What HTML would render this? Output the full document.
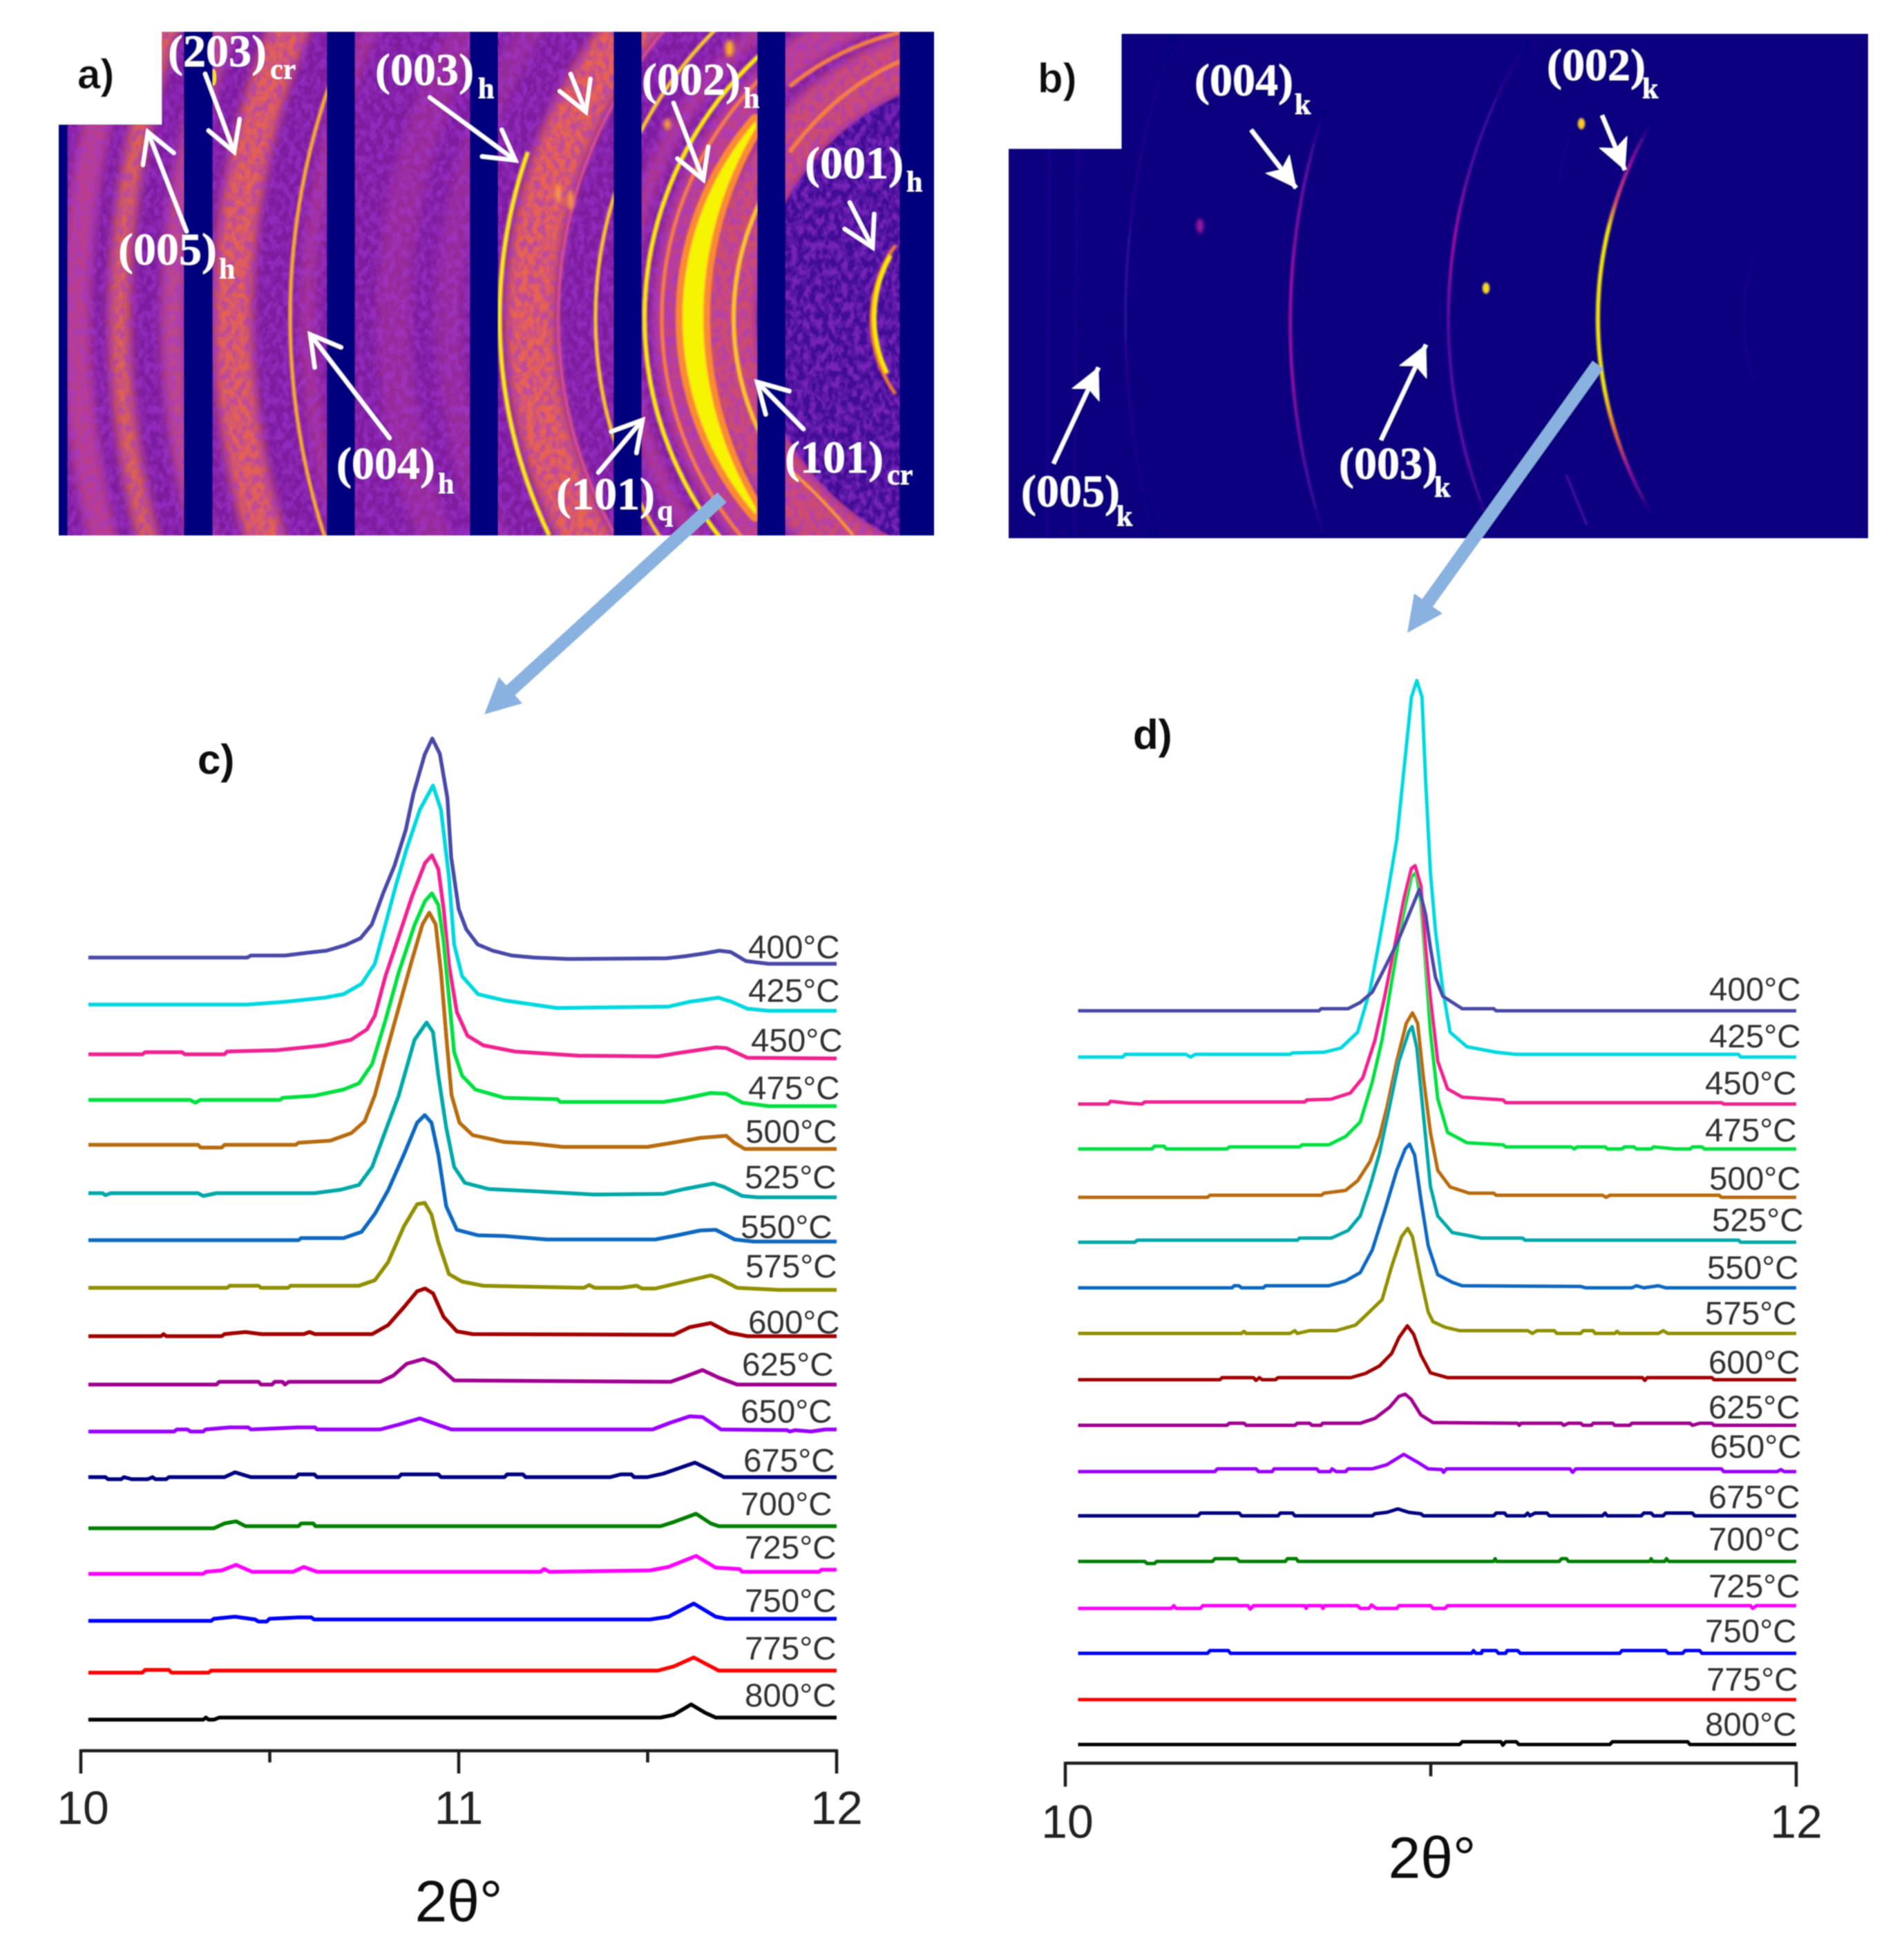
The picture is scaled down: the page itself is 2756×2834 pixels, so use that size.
<!DOCTYPE html>
<html lang="en">
<head>
<meta charset="utf-8">
<title>Diffraction patterns and 2-theta profiles versus temperature</title>
<style>
html,body{margin:0;padding:0;background:#fff;}
svg{display:block;}
.hkl{font-family:"Liberation Serif",serif;font-weight:700;fill:#fff;font-size:66px;}
.hkl tspan{font-size:42px;}
.panel{font-family:"Liberation Sans",sans-serif;font-weight:700;fill:#111;font-size:60px;}
.temp{font-family:"Liberation Sans",sans-serif;fill:#333;font-size:47.5px;}
.tick{font-family:"Liberation Sans",sans-serif;fill:#222;font-size:68px;text-anchor:middle;}
.xt{font-family:"Liberation Sans",sans-serif;fill:#111;font-size:84px;text-anchor:middle;}
</style>
</head>
<body>
<svg id="figure" xmlns="http://www.w3.org/2000/svg" width="2756" height="2834" viewBox="0 0 2756 2834">
<defs>
<clipPath id="clipA"><rect x="85" y="46" width="1267" height="729"/></clipPath>
<clipPath id="clipALeft"><rect x="85" y="46" width="1011" height="729"/></clipPath>
<clipPath id="clipB"><rect x="1460" y="49" width="1244" height="730"/></clipPath>
<filter id="soft" x="0" y="0" width="100%" height="100%" filterUnits="objectBoundingBox"><feGaussianBlur stdDeviation="0.9"/></filter>
<filter id="b1" x="-20%" y="-20%" width="140%" height="140%"><feGaussianBlur stdDeviation="1.3"/></filter>
<filter id="b6" x="-20%" y="-20%" width="140%" height="140%"><feGaussianBlur stdDeviation="7"/></filter>
<filter id="spot" x="-100%" y="-100%" width="300%" height="300%"><feGaussianBlur stdDeviation="3"/></filter>
<filter id="grain" x="0" y="0" width="100%" height="100%">
<feTurbulence type="fractalNoise" baseFrequency="0.11 0.08" numOctaves="2" seed="5"/>
<feColorMatrix type="matrix" values="0 0 0 0 0.36  0 0 0 0 0.04  0 0 0 0 0.66  0 0 0 3.0 -1.1"/>
</filter>
<linearGradient id="gMain" gradientUnits="userSpaceOnUse" x1="0" y1="178" x2="0" y2="748">
<stop offset="0" stop-color="#07017f"/><stop offset="0.1" stop-color="#8a109e"/><stop offset="0.2" stop-color="#d04a70"/><stop offset="0.27" stop-color="#ffee00"/><stop offset="0.68" stop-color="#ffee00"/><stop offset="0.78" stop-color="#f07030"/><stop offset="0.88" stop-color="#8a109e"/><stop offset="1" stop-color="#07017f"/>
</linearGradient>
<linearGradient id="g004" gradientUnits="userSpaceOnUse" x1="0" y1="160" x2="0" y2="774">
<stop offset="0" stop-color="#07017f"/><stop offset="0.15" stop-color="#5a0c9e"/><stop offset="0.4" stop-color="#960fa0"/><stop offset="0.65" stop-color="#8a10a0"/><stop offset="0.85" stop-color="#4a0c9c"/><stop offset="1" stop-color="#100380"/>
</linearGradient>
<linearGradient id="g003" gradientUnits="userSpaceOnUse" x1="0" y1="60" x2="0" y2="770">
<stop offset="0" stop-color="#0c0280"/><stop offset="0.25" stop-color="#4a0c9c"/><stop offset="0.4" stop-color="#9a10a0"/><stop offset="0.6" stop-color="#4a0c9c"/><stop offset="0.85" stop-color="#5a0c9e"/><stop offset="1" stop-color="#100380"/>
</linearGradient>
<linearGradient id="gFaint" gradientUnits="userSpaceOnUse" x1="0" y1="49" x2="0" y2="779">
<stop offset="0" stop-color="#0c0280"/><stop offset="0.5" stop-color="#2a0890"/><stop offset="1" stop-color="#0c0280"/>
</linearGradient>
<marker id="openHead" markerUnits="userSpaceOnUse" viewBox="-50 -30 60 60" refX="0" refY="0" markerWidth="60" markerHeight="60" orient="auto"><path d="M-42 -24 L0 0 L-42 24" fill="none" stroke="#fff" stroke-width="6" stroke-linecap="round"/></marker>
<marker id="fillHead" markerUnits="userSpaceOnUse" viewBox="-50 -30 60 60" refX="0" refY="0" markerWidth="60" markerHeight="60" orient="auto"><path d="M-44 -22 L0 0 L-44 22 L-34 0 Z" fill="#fff"/></marker>
</defs>

<rect width="2756" height="2834" fill="#fff"/>

<g id="soft-root" filter="url(#soft)">

<!-- Panel a -->
<g>
<g clip-path="url(#clipA)">
<rect x="85" y="46" width="1267" height="729" fill="#7e1c9f"/>
<g fill="none" filter="url(#b6)">
<circle cx="1450" cy="460" r="1340" stroke="#d84f80" stroke-width="42" opacity=".65"/>
<circle cx="1450" cy="460" r="1277" stroke="#f57340" stroke-width="30" opacity=".8"/>
<circle cx="1450" cy="460" r="1200" stroke="#e0607a" stroke-width="34" opacity=".65"/>
<circle cx="1450" cy="460" r="1113" stroke="#f56c45" stroke-width="56" opacity=".85"/>
<circle cx="1450" cy="460" r="1005" stroke="#c84488" stroke-width="26" opacity=".5"/>
<circle cx="1450" cy="460" r="880" stroke="#b83c90" stroke-width="50" opacity=".45"/>
<circle cx="1450" cy="460" r="800" stroke="#b83c90" stroke-width="40" opacity=".4"/>
<circle cx="1450" cy="460" r="682" stroke="#f26a48" stroke-width="72" opacity=".9"/>
<circle cx="1450" cy="460" r="545" stroke="#cc4488" stroke-width="26" opacity=".6"/>
<circle cx="1450" cy="460" r="480" stroke="#d84e80" stroke-width="50" opacity=".7"/>
<circle cx="1450" cy="460" r="395" stroke="#e85c60" stroke-width="80" opacity=".75"/>
</g>
<circle cx="1450" cy="460" r="354" fill="#420c96" filter="url(#b1)"/>
<rect x="85" y="46" width="1267" height="729" filter="url(#grain)" opacity=".55"/>
<g fill="none" filter="url(#b1)" clip-path="url(#clipALeft)">
<circle cx="1450" cy="460" r="1030" stroke="#ffb428" stroke-width="5"/>
<path d="M764 220 A727 727 0 0 0 795 775" stroke="#ffee10" stroke-width="6"/>
<circle cx="1450" cy="460" r="642" stroke="#d8508c" stroke-width="4"/>
<circle cx="1450" cy="460" r="588" stroke="#ffd020" stroke-width="5"/>
<circle cx="1450" cy="460" r="517" stroke="#ffee00" stroke-width="6"/>
<circle cx="1450" cy="460" r="492" stroke="#f98040" stroke-width="5"/>
<path d="M1094 175 A436 436 0 0 0 1094 745 L1094 735 A535 535 0 0 1 1094 185 Z" fill="#fb8a30" stroke="#fb8a30" stroke-width="20" stroke-linejoin="round"/>
<path d="M1094 175 A436 436 0 0 0 1094 745 L1094 735 A535 535 0 0 1 1094 185 Z" fill="#f6f400"/>
<circle cx="1450" cy="460" r="388" stroke="#ffc828" stroke-width="6"/>
</g>
<g fill="none" filter="url(#b1)">
<path d="M1296 355 A184 184 0 0 0 1296 570" stroke="#f37b2a" stroke-width="5"/>
<path d="M1289 370 A184 184 0 0 0 1284 540" stroke="#ffee00" stroke-width="6"/>
<path d="M1143 125 Q1210 70 1302 47" stroke="#f58040" stroke-width="6"/>
<path d="M1143 220 Q1210 130 1302 89" stroke="#f58040" stroke-width="6"/>
<path d="M1143 680 Q1190 720 1235 775" stroke="#ffa030" stroke-width="4"/>
</g>
<ellipse cx="1056" cy="70" rx="6" ry="12" fill="#ffb020" filter="url(#spot)"/>
<ellipse cx="966" cy="180" rx="5" ry="8" fill="#ffa030" filter="url(#spot)"/>
<ellipse cx="808" cy="280" rx="4" ry="12" fill="#ffa040" filter="url(#spot)"/>
<ellipse cx="826" cy="290" rx="4" ry="14" fill="#ffa040" filter="url(#spot)"/>
<ellipse cx="309" cy="112" rx="4" ry="12" fill="#ffe020"/>
<g fill="#03007f">
<rect x="85" y="46" width="13" height="729"/>
<rect x="266" y="46" width="42" height="729"/>
<rect x="473" y="46" width="41" height="729"/>
<rect x="680" y="46" width="41" height="729"/>
<rect x="888" y="46" width="41" height="729"/>
<rect x="1096" y="46" width="41" height="729"/>
<rect x="1302" y="46" width="50" height="729"/>
</g>
</g>
<rect x="80" y="40" width="154" height="140" fill="#fff"/>
<text class="panel" x="112" y="128">a)</text>
<g stroke="#fff" stroke-width="6" fill="none" stroke-linecap="round">
<line x1="297" y1="107" x2="339" y2="220" marker-end="url(#openHead)"/>
<line x1="270" y1="335" x2="214" y2="191" marker-end="url(#openHead)"/>
<line x1="622" y1="141" x2="746" y2="232" marker-end="url(#openHead)"/>
<line x1="826" y1="107" x2="848" y2="162" marker-end="url(#openHead)"/>
<line x1="975" y1="149" x2="1018" y2="260" marker-end="url(#openHead)"/>
<line x1="1230" y1="293" x2="1263" y2="358" marker-end="url(#openHead)"/>
<line x1="564" y1="634" x2="449" y2="484" marker-end="url(#openHead)"/>
<line x1="866" y1="684" x2="930" y2="608" marker-end="url(#openHead)"/>
<line x1="1163" y1="621" x2="1096" y2="553" marker-end="url(#openHead)"/>
</g>
<g>
<text class="hkl" x="243" y="96">(203)<tspan x="391" y="114">cr</tspan></text>
<text class="hkl" x="171" y="383">(005)<tspan x="317" y="403">h</tspan></text>
<text class="hkl" x="543" y="123">(003)<tspan x="692" y="142">h</tspan></text>
<text class="hkl" x="929" y="137">(002)<tspan x="1076" y="156">h</tspan></text>
<text class="hkl" x="1165" y="258">(001)<tspan x="1312" y="277">h</tspan></text>
<text class="hkl" x="487" y="693">(004)<tspan x="634" y="714">h</tspan></text>
<text class="hkl" x="805" y="737">(101)<tspan x="951" y="753">q</tspan></text>
<text class="hkl" x="1136" y="684">(101)<tspan x="1284" y="701">cr</tspan></text>
</g>
</g>

<!-- Panel b -->
<g>
<g clip-path="url(#clipB)">
<rect x="1460" y="49" width="1244" height="730" fill="#07017f"/>
<g fill="none" filter="url(#b1)">
<path d="M1699 50 A1240 1240 0 0 0 1671 780" stroke="url(#gFaint)" stroke-width="5"/>
<path d="M1916 160 A999 999 0 0 0 1916 774" stroke="url(#g004)" stroke-width="5"/>
<path d="M2210 60 A769 769 0 0 0 2161 770" stroke="url(#g003)" stroke-width="5"/>
<path d="M2537 370 A344 344 0 0 0 2537 550" stroke="#1e0589" stroke-width="3"/>
<path d="M2270 200 Q2262 225 2258 260" stroke="#1e0589" stroke-width="3"/>
<path d="M2267 687 L2297 760" stroke="#400a98" stroke-width="4"/>
<path d="M1520 50 L1516 780" stroke="#14038a" stroke-width="6"/>
<path d="M1560 50 L1555 780" stroke="#120386" stroke-width="6"/>
<path d="M2390 178 A556 556 0 0 0 2393 748" stroke="url(#gMain)" stroke-width="5.5"/>
</g>
<ellipse cx="2289" cy="179" rx="5" ry="8" fill="#ffc820" filter="url(#b1)"/>
<ellipse cx="2151" cy="417" rx="5" ry="8" fill="#ffd820" filter="url(#b1)"/>
<ellipse cx="1737" cy="327" rx="5" ry="11" fill="#a0189c" filter="url(#spot)"/>
</g>
<rect x="1455" y="44" width="168" height="171" fill="#fff"/>
<text class="panel" x="1502" y="134">b)</text>
<g stroke="#fff" stroke-width="6" fill="none">
<line x1="1811" y1="188" x2="1876" y2="272" marker-end="url(#fillHead)"/>
<line x1="2319" y1="167" x2="2352" y2="246" marker-end="url(#fillHead)"/>
<line x1="1999" y1="637" x2="2064" y2="499" marker-end="url(#fillHead)"/>
<line x1="1525" y1="671" x2="1590" y2="532" marker-end="url(#fillHead)"/>
</g>
<g>
<text class="hkl" x="1729" y="138">(004)<tspan x="1874" y="165">k</tspan></text>
<text class="hkl" x="2239" y="116">(002)<tspan x="2377" y="142">k</tspan></text>
<text class="hkl" x="1938" y="693">(003)<tspan x="2076" y="719">k</tspan></text>
<text class="hkl" x="1478" y="733">(005)<tspan x="1616" y="761">k</tspan></text>
</g>
</g>

<!-- Connector arrows -->
<g fill="#89b2e0" stroke="none">
<g>
<line x1="1045" y1="720" x2="735" y2="1003" stroke="#89b2e0" stroke-width="19"/>
<polygon points="701,1034 722,980 756,1018"/>
</g>
<g>
<line x1="2313" y1="528" x2="2066" y2="873" stroke="#89b2e0" stroke-width="19"/>
<polygon points="2037,916 2047,859 2088,888"/>
</g>
</g>

<!-- Panel c -->
<g id="chart-c">
<text class="panel" x="286" y="1120">c)</text>
<g id="curves-c" fill="none" stroke-width="5.5" stroke-linejoin="round"></g>
<g id="axis-c" stroke="#1a1a1a" fill="none" stroke-width="4.5"></g>
<g>
<text class="temp" x="1083" y="1387">400°C</text>
<text class="temp" x="1083" y="1450">425°C</text>
<text class="temp" x="1087" y="1522">450°C</text>
<text class="temp" x="1083" y="1591">475°C</text>
<text class="temp" x="1079" y="1654">500°C</text>
<text class="temp" x="1078" y="1720">525°C</text>
<text class="temp" x="1072" y="1792">550°C</text>
<text class="temp" x="1079" y="1849">575°C</text>
<text class="temp" x="1083" y="1930">600°C</text>
<text class="temp" x="1074" y="1991">625°C</text>
<text class="temp" x="1072" y="2059">650°C</text>
<text class="temp" x="1076" y="2130">675°C</text>
<text class="temp" x="1072" y="2193">700°C</text>
<text class="temp" x="1078" y="2256">725°C</text>
<text class="temp" x="1078" y="2333">750°C</text>
<text class="temp" x="1078" y="2402">775°C</text>
<text class="temp" x="1078" y="2470">800°C</text>
</g>
<text class="xt" x="664" y="2781">2θ°</text>
</g>

<!-- Panel d -->
<g id="chart-d">
<text class="panel" x="1640" y="1084">d)</text>
<g id="curves-d" fill="none" stroke-width="5" stroke-linejoin="round"></g>
<g id="axis-d" stroke="#1a1a1a" fill="none" stroke-width="4.5"></g>
<g>
<text class="temp" x="2474" y="1448">400°C</text>
<text class="temp" x="2474" y="1516">425°C</text>
<text class="temp" x="2468" y="1584">450°C</text>
<text class="temp" x="2468" y="1652">475°C</text>
<text class="temp" x="2474" y="1722">500°C</text>
<text class="temp" x="2478" y="1782">525°C</text>
<text class="temp" x="2471" y="1851">550°C</text>
<text class="temp" x="2468" y="1917">575°C</text>
<text class="temp" x="2473" y="1988">600°C</text>
<text class="temp" x="2473" y="2053">625°C</text>
<text class="temp" x="2475" y="2110">650°C</text>
<text class="temp" x="2473" y="2183">675°C</text>
<text class="temp" x="2473" y="2244">700°C</text>
<text class="temp" x="2473" y="2312">725°C</text>
<text class="temp" x="2468" y="2377">750°C</text>
<text class="temp" x="2470" y="2447">775°C</text>
<text class="temp" x="2468" y="2512">800°C</text>
</g>
<text class="xt" x="2073" y="2718">2θ°</text>
</g>
</g>
</svg>

<script>
// Shared categories and styling
const temperatures = [400,425,450,475,500,525,550,575,600,625,650,675,700,725,750,775,800];
const seriesColors = ['#4a4aa8','#00d8e0','#f02090','#00e040','#b86c10','#00a8a8','#1068c0','#909000','#a00000','#a00090','#9900ff','#000080','#008000','#ff00ff','#0000ff','#ff0000','#000000'];

// Panel c: stacking offset per temperature (a.u. above the axis)
const stackOffsetC = [1148,1080,1008,942,877,807,739,670,600,530,462,396,322,256,188,113,45];
const xTicksC = [10,10.5,11,11.5,12];
const xTickLabelsC = ['10','','11','','12'];

// Panel c: [2-theta, intensity a.u.]
const c400 = [[10.02,0],[10.44,0],[10.45,3],[10.54,3],[10.60,7],[10.65,10],[10.70,18],[10.74,28],[10.77,48],[10.80,93],[10.83,133],[10.86,185],[10.88,237],[10.91,294],[10.93,317],[10.95,295],[10.97,231],[10.98,145],[11.00,70],[11.02,41],[11.05,19],[11.09,10],[11.14,3],[11.20,0],[11.29,-2],[11.55,-1],[11.60,2],[11.65,6],[11.69,10],[11.72,8],[11.76,-5],[11.82,-9],[12,-9]];
const c425 = [[10.02,0],[10.44,0],[10.54,4],[10.645,10],[10.695,15],[10.743,30],[10.778,59],[10.806,116],[10.834,173],[10.862,225],[10.897,282],[10.932,317],[10.953,282],[10.974,185],[10.988,87],[11.009,41],[11.051,15],[11.121,6],[11.26,-5],[11.555,-3],[11.61,4],[11.687,10],[11.722,4],[11.764,-6],[11.82,-9],[12,-9]];
const c450 = [[10.02,0],[10.163,0],[10.17,3],[10.268,3],[10.275,0],[10.38,0],[10.387,4],[10.52,6],[10.645,13],[10.715,21],[10.757,36],[10.778,56],[10.806,113],[10.841,170],[10.876,228],[10.911,277],[10.929,288],[10.946,268],[10.96,211],[10.974,130],[10.995,61],[11.023,27],[11.065,13],[11.149,4],[11.317,-2],[11.527,-3],[11.583,2],[11.681,10],[11.708,9],[11.764,-5],[12,-6]];
const c475 = [[10.02,0],[10.289,0],[10.303,-4],[10.317,0],[10.527,0],[10.534,3],[10.618,6],[10.695,15],[10.736,24],[10.771,52],[10.806,115],[10.841,184],[10.883,253],[10.911,288],[10.929,299],[10.946,282],[10.96,230],[10.974,150],[10.988,69],[11.009,35],[11.044,15],[11.121,3],[11.261,1],[11.268,-3],[11.541,-3],[11.597,2],[11.667,10],[11.708,9],[11.75,-4],[11.82,-9],[12,-9]];
const c500 = [[10.02,0],[10.31,0],[10.317,-4],[10.373,-4],[10.38,0],[10.569,0],[10.576,3],[10.66,6],[10.716,17],[10.751,34],[10.778,72],[10.806,129],[10.841,198],[10.876,267],[10.904,319],[10.922,336],[10.939,319],[10.953,250],[10.967,158],[10.981,72],[11.002,32],[11.037,14],[11.121,4],[11.191,2],[11.275,-3],[11.499,-3],[11.555,2],[11.639,10],[11.708,13],[11.729,3],[11.757,-6],[12,-6]];
const c525 = [[10.02,0],[10.058,0],[10.065,-3],[10.079,0],[10.31,0],[10.324,-4],[10.359,0],[10.618,0],[10.688,5],[10.736,12],[10.771,38],[10.806,90],[10.841,141],[10.883,222],[10.915,247],[10.932,233],[10.946,170],[10.967,95],[10.988,38],[11.016,15],[11.079,6],[11.191,3],[11.359,-2],[11.541,-1],[11.597,6],[11.674,14],[11.702,9],[11.75,-4],[11.792,-6],[12,-6]];
const c550 = [[10.02,0],[10.576,0],[10.583,3],[10.695,3],[10.743,12],[10.778,38],[10.813,72],[10.855,124],[10.89,170],[10.91,181],[10.928,170],[10.946,124],[10.967,49],[10.995,15],[11.051,7],[11.121,6],[11.233,1],[11.52,1],[11.569,6],[11.639,14],[11.68,15],[11.73,1],[11.78,-2],[12,-2]];
const c575 = [[10.02,0],[10.387,0],[10.394,3],[10.47,3],[10.477,0],[10.548,0],[10.555,3],[10.736,3],[10.778,11],[10.813,37],[10.855,89],[10.89,121],[10.91,123],[10.928,106],[10.946,66],[10.974,20],[11.009,9],[11.065,3],[11.331,0],[11.345,4],[11.36,0],[11.429,0],[11.471,3],[11.485,-1],[11.52,-1],[11.597,9],[11.667,18],[11.688,14],[11.737,0],[11.849,-3],[12,-3]];
const c600 = [[10.02,0],[10.212,0],[10.219,3],[10.226,0],[10.373,0],[10.38,3],[10.436,6],[10.478,3],[10.59,3],[10.605,6],[10.62,3],[10.771,3],[10.813,16],[10.855,42],[10.89,65],[10.911,69],[10.932,62],[10.96,28],[10.995,7],[11.037,3],[11.569,2],[11.611,13],[11.667,19],[11.716,5],[11.764,0],[12,0]];
const c625 = [[10.02,0],[10.359,0],[10.366,4],[10.47,4],[10.477,0],[10.506,0],[10.513,4],[10.534,4],[10.54,0],[10.55,4],[10.792,4],[10.827,13],[10.862,30],[10.907,37],[10.939,30],[10.988,6],[11.561,4],[11.597,11],[11.645,21],[11.688,10],[11.737,0],[12,0]];
const c650 = [[10.02,0],[10.247,0],[10.254,3],[10.282,3],[10.29,0],[10.324,0],[10.33,3],[10.394,6],[10.443,6],[10.45,3],[10.576,6],[10.62,6],[10.625,3],[10.792,3],[10.841,10],[10.897,19],[10.939,11],[10.981,3],[11.513,3],[11.561,13],[11.611,22],[11.645,21],[11.694,3],[11.869,2],[11.876,0],[11.89,2],[11.932,0],[11.97,3],[12,3]];
const c675 = [[10.02,0],[10.065,0],[10.072,-3],[10.107,-3],[10.114,0],[10.135,-3],[10.177,-3],[10.19,0],[10.197,-3],[10.226,-3],[10.233,0],[10.38,0],[10.408,7],[10.45,0],[10.569,0],[10.576,4],[10.618,4],[10.625,0],[10.841,0],[10.848,4],[10.946,4],[10.953,0],[11.121,0],[11.128,4],[11.17,4],[11.177,0],[11.401,0],[11.429,4],[11.457,4],[11.464,0],[11.499,0],[11.541,5],[11.625,21],[11.667,10],[11.702,0],[12,0]];
const c700 = [[10.02,0],[10.352,0],[10.38,7],[10.411,10],[10.436,3],[10.576,3],[10.583,7],[10.615,7],[10.621,3],[11.534,3],[11.569,9],[11.628,21],[11.667,7],[11.688,3],[12,3]];
const c725 = [[10.02,0],[10.324,0],[10.331,3],[10.373,5],[10.411,13],[10.453,3],[10.562,3],[10.59,10],[10.625,3],[11.216,3],[11.226,7],[11.24,3],[11.506,5],[11.555,10],[11.628,26],[11.68,9],[11.743,7],[11.75,3],[11.953,3],[11.96,6],[12,6]];
const c750 = [[10.02,0],[10.345,0],[10.352,3],[10.408,6],[10.461,2],[10.47,-1],[10.492,-1],[10.499,3],[10.576,5],[10.61,5],[10.617,2],[11.506,2],[11.555,6],[11.622,25],[11.68,6],[11.708,3],[12,3]];
const c775 = [[10.02,0],[10.163,0],[10.17,4],[10.233,4],[10.24,0],[10.338,0],[10.345,3],[11.527,3],[11.569,9],[11.622,22],[11.667,9],[11.688,3],[12,3]];
const c800 = [[10.02,0],[10.324,0],[10.331,3],[10.338,0],[10.352,0],[10.366,3],[11.534,3],[11.569,7],[11.615,22],[11.652,10],[11.68,3],[12,3]];
const seriesC = [c400,c425,c450,c475,c500,c525,c550,c575,c600,c625,c650,c675,c700,c725,c750,c775,c800];

// Panel d: stacking offset per temperature (a.u. above the axis)
const stackOffsetD = [1089,1022,954,889,819,754,688,622,555,489,422,358,292,224,159,92,27];
const xTicksD = [10,11,12];
const xTickLabelsD = ['10','','12'];
const drawOrderD = [1,3,2,0,4,5,6,7,8,9,10,11,12,13,14,15,16];

// Panel d: [2-theta, intensity a.u.]
const d400 = [[10.035,0],[10.694,0],[10.70,3],[10.774,3],[10.807,12],[10.84,27],[10.873,61],[10.907,97],[10.94,139],[10.969,176],[10.986,139],[10.999,91],[11.013,48],[11.033,21],[11.086,3],[11.172,3],[11.179,0],[12,0]];
const d425 = [[10.035,0],[10.157,0],[10.164,4],[10.33,4],[10.343,0],[10.356,4],[10.615,4],[10.622,6],[10.708,7],[10.754,13],[10.80,36],[10.834,97],[10.86,170],[10.88,230],[10.907,315],[10.927,418],[10.947,521],[10.962,545],[10.976,521],[10.986,400],[10.999,267],[11.013,182],[11.033,97],[11.053,36],[11.099,15],[11.179,7],[11.232,4],[11.842,4],[11.848,0],[12,0]];
const d450 = [[10.035,0],[10.117,0],[10.124,4],[10.177,1],[10.21,0],[10.217,3],[10.655,3],[10.661,6],[10.727,7],[10.78,16],[10.814,38],[10.847,92],[10.873,153],[10.90,225],[10.927,298],[10.947,341],[10.957,345],[10.973,316],[10.986,225],[10.999,153],[11.019,62],[11.046,22],[11.086,10],[11.198,6],[11.205,2],[11.795,2],[11.802,0],[12,0]];
const d475 = [[10.035,0],[10.237,0],[10.244,4],[10.27,4],[10.277,0],[10.442,0],[10.449,3],[10.641,3],[10.648,6],[10.721,6],[10.767,18],[10.807,39],[10.84,97],[10.867,158],[10.893,242],[10.92,327],[10.947,394],[10.96,400],[10.973,358],[10.986,267],[10.999,170],[11.019,73],[11.046,24],[11.099,9],[11.198,6],[11.205,3],[11.384,3],[11.393,0],[11.40,3],[11.477,3],[11.484,0],[11.523,0],[11.53,3],[11.556,3],[11.563,0],[11.603,0],[11.61,3],[11.669,0],[11.71,0],[11.716,3],[11.742,3],[11.749,0],[12,0]];
const d500 = [[10.035,0],[10.389,0],[10.396,3],[10.701,3],[10.708,6],[10.767,10],[10.80,24],[10.834,52],[10.86,88],[10.88,130],[10.907,197],[10.933,252],[10.95,267],[10.964,252],[10.98,173],[10.999,94],[11.019,39],[11.053,15],[11.105,6],[11.172,6],[11.179,3],[11.47,3],[11.48,0],[11.49,3],[11.789,3],[11.795,0],[12,0]];
const d525 = [[10.035,0],[10.19,0],[10.197,3],[10.635,3],[10.641,6],[10.728,6],[10.774,17],[10.807,38],[10.834,81],[10.86,129],[10.887,196],[10.913,262],[10.94,305],[10.949,312],[10.962,281],[10.98,184],[10.999,81],[11.019,38],[11.059,14],[11.139,6],[11.251,6],[11.258,3],[11.842,3],[11.848,0],[12,0]];
const d550 = [[10.035,0],[10.456,0],[10.462,3],[10.475,3],[10.482,0],[10.542,0],[10.548,3],[10.721,3],[10.767,10],[10.807,22],[10.84,55],[10.873,110],[10.907,170],[10.93,201],[10.942,208],[10.956,192],[10.973,128],[10.993,61],[11.019,19],[11.059,8],[11.086,3],[11.41,2],[11.424,0],[11.55,0],[11.563,3],[11.583,0],[11.623,3],[11.643,0],[12,0]];
const d575 = [[10.035,0],[10.482,0],[10.489,3],[10.495,0],[10.615,0],[10.628,4],[10.635,0],[10.668,4],[10.741,4],[10.794,12],[10.82,25],[10.867,49],[10.893,97],[10.92,140],[10.937,152],[10.95,140],[10.973,79],[10.993,31],[11.006,17],[11.039,9],[11.079,4],[11.265,4],[11.278,0],[11.291,4],[11.338,4],[11.345,0],[11.41,0],[11.417,4],[11.444,4],[11.45,0],[11.503,0],[11.51,3],[11.516,0],[11.623,0],[11.636,4],[11.649,0],[12,0]];
const d600 = [[10.035,0],[10.423,0],[10.429,3],[10.515,3],[10.522,-1],[10.531,3],[10.539,0],[10.575,0],[10.582,3],[10.781,3],[10.821,9],[10.86,20],[10.893,38],[10.913,61],[10.936,78],[10.953,66],[10.973,36],[10.999,10],[11.046,3],[11.579,3],[11.586,-1],[11.592,3],[11.769,3],[11.775,0],[12,0]];
const d625 = [[10.035,0],[10.442,0],[10.449,3],[10.489,3],[10.495,0],[10.628,0],[10.635,3],[10.668,3],[10.675,0],[10.70,0],[10.704,3],[10.807,3],[10.847,10],[10.887,26],[10.913,42],[10.93,45],[10.946,38],[10.973,15],[11.006,4],[11.238,3],[11.242,0],[11.247,3],[11.357,3],[11.364,0],[11.377,3],[11.41,3],[11.417,0],[11.44,0],[11.444,3],[11.498,3],[11.503,0],[11.545,0],[11.55,3],[11.709,3],[11.716,0],[11.736,3],[11.769,3],[11.775,0],[12,0]];
const d650 = [[10.035,0],[10.409,0],[10.416,4],[10.522,4],[10.529,0],[10.566,0],[10.571,4],[10.688,4],[10.694,0],[10.725,0],[10.73,4],[10.741,0],[10.767,0],[10.774,4],[10.84,4],[10.88,10],[10.926,25],[10.966,13],[10.993,4],[11.03,3],[11.035,-1],[11.043,4],[11.381,4],[11.388,-1],[11.397,4],[11.795,4],[11.802,0],[11.948,0],[11.958,3],[11.967,0],[12,0]];
const d675 = [[10.035,0],[10.363,0],[10.37,4],[10.476,4],[10.482,0],[10.582,0],[10.588,4],[10.622,4],[10.628,0],[10.84,0],[10.847,3],[10.88,5],[10.91,10],[10.94,5],[10.973,3],[10.98,0],[11.172,0],[11.179,4],[11.202,4],[11.208,0],[11.258,0],[11.265,4],[11.271,0],[11.285,4],[11.318,4],[11.325,0],[11.47,0],[11.477,4],[11.483,0],[11.576,0],[11.583,4],[11.603,4],[11.61,0],[11.636,0],[11.643,4],[11.716,4],[11.722,0],[12,0]];
const d700 = [[10.035,0],[10.217,0],[10.224,-3],[10.244,-3],[10.25,0],[10.403,0],[10.409,4],[10.469,4],[10.476,0],[10.602,0],[10.608,4],[10.632,4],[10.637,0],[11.172,0],[11.176,4],[11.18,0],[11.351,0],[11.358,4],[11.371,4],[11.377,0],[11.599,0],[11.603,4],[11.607,0],[11.64,0],[11.645,4],[11.651,0],[12,0]];
const d725 = [[10.035,0],[10.29,0],[10.297,4],[10.303,0],[10.37,0],[10.376,4],[10.50,4],[10.506,-1],[10.515,4],[10.655,4],[10.659,0],[10.663,4],[10.701,4],[10.705,0],[10.709,4],[10.80,4],[10.807,0],[10.831,0],[10.838,5],[10.851,0],[10.907,0],[10.913,4],[11.0,4],[11.006,0],[11.039,0],[11.046,4],[11.875,4],[11.881,0],[11.891,4],[12,4]];
const d750 = [[10.035,0],[10.389,0],[10.396,4],[10.446,4],[10.452,0],[11.112,0],[11.117,4],[11.123,0],[11.139,0],[11.141,4],[11.179,4],[11.185,0],[11.205,0],[11.209,4],[11.238,4],[11.245,0],[11.517,0],[11.523,4],[11.643,4],[11.65,0],[11.689,0],[11.696,4],[11.736,4],[11.742,0],[12,0]];
const d775 = [[10.035,0],[12,0]];
const d800 = [[10.035,0],[11.079,0],[11.086,4],[11.192,4],[11.197,-1],[11.205,4],[11.234,4],[11.241,0],[11.49,0],[11.497,4],[11.703,4],[11.709,0],[12,0]];
const seriesD = [d400,d425,d450,d475,d500,d525,d550,d575,d600,d625,d650,d675,d700,d725,d750,d775,d800];

const SVG_NS = 'http://www.w3.org/2000/svg';

// Axis functions
function xScaleC(v){ return 117 + (v - 10) * 547; }
function yScaleC(v){ return 2534 - v; }
function xScaleD(v){ return 1542 + (v - 10) * 529; }
function yScaleD(v){ return 2552 - v; }

function buildPath(points, offset, xs, ys){
  let d = '';
  for (let i = 0; i < points.length; i++) {
    d += (i === 0 ? 'M' : 'L') + xs(points[i][0]).toFixed(1) + ' ' + ys(offset + points[i][1]).toFixed(1);
  }
  return d;
}

function drawCurves(groupId, panel, series, offsets, order, xs, ys){
  const group = document.getElementById(groupId);
  order.forEach(function(i){
    const path = document.createElementNS(SVG_NS, 'path');
    path.setAttribute('d', buildPath(series[i], offsets[i], xs, ys));
    path.setAttribute('stroke', seriesColors[i]);
    
    
    group.appendChild(path);
  });
}

function drawAxis(groupId, panel, ticks, labels, xs, yAxis, majorLen, minorLen, labelY){
  const group = document.getElementById(groupId);
  const axisLine = document.createElementNS(SVG_NS, 'path');
  axisLine.setAttribute('d', 'M' + xs(ticks[0]) + ' ' + yAxis + 'L' + xs(ticks[ticks.length - 1]) + ' ' + yAxis);
  
  
  group.appendChild(axisLine);
  ticks.forEach(function(t, i){
    const isEnd = i === 0 || i === ticks.length - 1;
    const isMajor = Number.isInteger(t) && (panel === 'c' || isEnd);
    const len = isMajor ? majorLen : minorLen;
    const tick = document.createElementNS(SVG_NS, 'path');
    tick.setAttribute('d', 'M' + xs(t) + ' ' + (yAxis - 2) + 'L' + xs(t) + ' ' + (yAxis + len));
    
    
    group.appendChild(tick);
    if (labels[i]) {
      const label = document.createElementNS(SVG_NS, 'text');
      label.setAttribute('x', xs(t) + (i === 0 ? 3 : 0));
      label.setAttribute('y', labelY);
      label.setAttribute('class', 'tick');
      label.setAttribute('stroke', 'none');
      
      
      label.textContent = labels[i];
      group.appendChild(label);
    }
  });
}

drawCurves('curves-c', 'c', seriesC, stackOffsetC, temperatures.map(function(_, i){ return i; }), xScaleC, yScaleC);
drawCurves('curves-d', 'd', seriesD, stackOffsetD, drawOrderD, xScaleD, yScaleD);
drawAxis('axis-c', 'c', xTicksC, xTickLabelsC, xScaleC, 2534, 33, 17, 2640);
drawAxis('axis-d', 'd', xTicksD, xTickLabelsD, xScaleD, 2552, 34, 19, 2660);
</script>
</body>
</html>
